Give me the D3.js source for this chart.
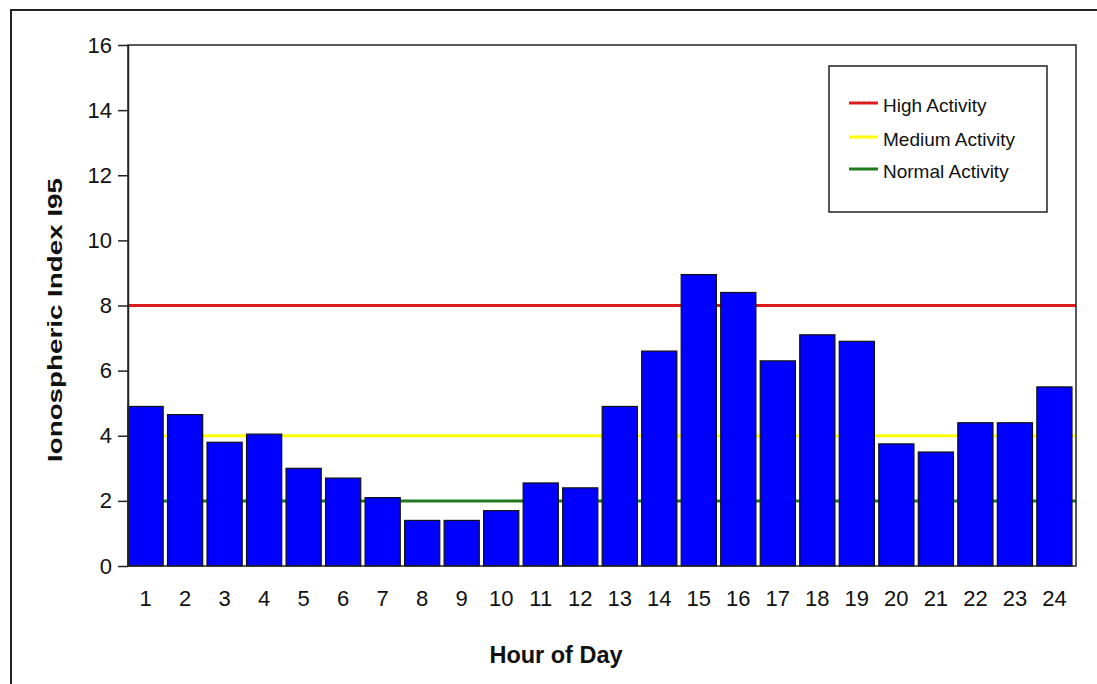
<!DOCTYPE html>
<html>
<head>
<meta charset="utf-8">
<script src="https://cdn.jsdelivr.net/npm/d3@7"></script>
<style>
  html, body { margin: 0; padding: 0; background: #fff; }
  svg { display: block; }
  text { font-family: "Liberation Sans", Arial, sans-serif; fill: #111; }
</style>
</head>
<body>
<svg id="chart" width="1097" height="684"></svg>
<script>
// Hourly ionospheric index values (hours 1..24)
const hours = ["1","2","3","4","5","6","7","8","9","10","11","12",
               "13","14","15","16","17","18","19","20","21","22","23","24"];
const indexValues = [4.9, 4.65, 3.8, 4.05, 3.0, 2.7, 2.1, 1.4, 1.4, 1.7, 2.55, 2.4,
                     4.9, 6.6, 8.95, 8.4, 6.3, 7.1, 6.9, 3.75, 3.5, 4.4, 4.4, 5.5];

// Activity threshold levels
const levelNames = ["High Activity", "Medium Activity", "Normal Activity"];
const levelValues = [8, 4, 2];
const levelColors = ["#dc1c1c", "#ffff00", "#1f7a1f"];

const yTicks = [0, 2, 4, 6, 8, 10, 12, 14, 16];

const svg = d3.select("#chart");

// outer chart frame
svg.append("rect")
  .attr("x", 11).attr("y", 10)
  .attr("width", 1100).attr("height", 700)
  .attr("fill", "none").attr("stroke", "#222").attr("stroke-width", 2);

const plot = { left: 128, right: 1076, top: 45, bottom: 566 };

const x = d3.scaleBand()
  .domain(hours)
  .range([plot.left, plot.right - 4])
  .paddingInner(0.11)
  .paddingOuter(0);

const y = d3.scaleLinear()
  .domain([0, 16])
  .range([plot.bottom, plot.top]);

// threshold lines (behind bars)
svg.append("g").selectAll("line")
  .data(levelValues)
  .join("line")
  .attr("x1", plot.left).attr("x2", plot.right)
  .attr("y1", d => y(d)).attr("y2", d => y(d))
  .attr("stroke", (d, i) => levelColors[i])
  .attr("stroke-width", 3);

// bars
svg.append("g").selectAll("rect")
  .data(indexValues)
  .join("rect")
  .attr("x", (d, i) => x(hours[i]))
  .attr("width", x.bandwidth())
  .attr("y", d => y(d))
  .attr("height", d => y(0) - y(d))
  .attr("fill", "#0000ff")
  .attr("stroke", "#111")
  .attr("stroke-width", 1.2);

// plot area border
svg.append("rect")
  .attr("x", plot.left).attr("y", plot.top)
  .attr("width", plot.right - plot.left)
  .attr("height", plot.bottom - plot.top)
  .attr("fill", "none").attr("stroke", "#222").attr("stroke-width", 1.5);

// y axis
const yAxis = svg.append("g")
  .attr("transform", `translate(${plot.left},0)`)
  .call(d3.axisLeft(y).tickValues(yTicks).tickSize(10).tickSizeOuter(0).tickPadding(6));
yAxis.select(".domain").attr("stroke", "#222").attr("stroke-width", 1.5);
yAxis.selectAll(".tick line").attr("stroke", "#222").attr("stroke-width", 1.5);
yAxis.selectAll("text")
  .style("font-family", "'Liberation Sans', Arial, sans-serif")
  .style("font-size", "22px").attr("fill", "#1a1a1a");

// x axis
const xAxis = svg.append("g")
  .attr("transform", `translate(0,${plot.bottom})`)
  .call(d3.axisBottom(x).tickSize(0).tickSizeOuter(0).tickPadding(24));
xAxis.select(".domain").remove();
xAxis.selectAll("text")
  .style("font-family", "'Liberation Sans', Arial, sans-serif")
  .style("font-size", "22px").attr("fill", "#1a1a1a");

// axis titles
svg.append("text")
  .attr("x", 556).attr("y", 663)
  .attr("text-anchor", "middle")
  .style("font-size", "23px").style("font-weight", "bold")
  .attr("textLength", 133).attr("lengthAdjust", "spacingAndGlyphs")
  .text("Hour of Day");

svg.append("text")
  .attr("transform", "translate(62,320) rotate(-90)")
  .attr("text-anchor", "middle")
  .style("font-size", "21px").style("font-weight", "bold")
  .attr("textLength", 284).attr("lengthAdjust", "spacingAndGlyphs")
  .text("Ionospheric Index I95");

// legend
const legend = svg.append("g");
legend.append("rect")
  .attr("x", 829).attr("y", 66).attr("width", 218).attr("height", 146)
  .attr("fill", "#fff").attr("stroke", "#222").attr("stroke-width", 1.5);
const rowY = [103, 137, 169];
const rows = legend.selectAll("g.row")
  .data(levelNames)
  .join("g").attr("class", "row")
  .attr("transform", (d, i) => `translate(0,${rowY[i]})`);
rows.append("line")
  .attr("x1", 849).attr("x2", 878)
  .attr("y1", 0).attr("y2", 0)
  .attr("stroke", (d, i) => levelColors[i]).attr("stroke-width", 3);
rows.append("text")
  .attr("x", 883).attr("y", 9)
  .style("font-size", "19px")
  .text(d => d);
</script>
</body>
</html>
